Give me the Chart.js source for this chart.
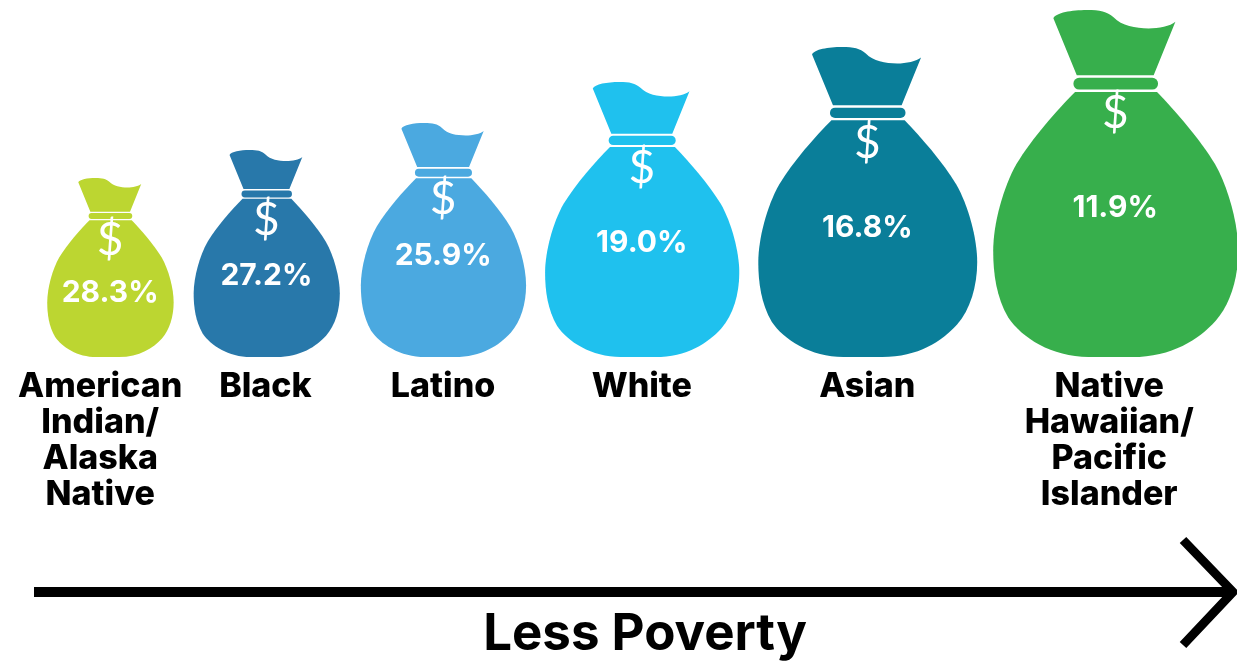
<!DOCTYPE html>
<html>
<head>
<meta charset="utf-8">
<title>Poverty rate by group</title>
<script src="https://cdn.jsdelivr.net/npm/chart.js@4/dist/chart.umd.min.js"></script>
<style>
  html, body { margin: 0; padding: 0; background: #fff; overflow: hidden; }
  canvas { display: block; }
</style>
</head>
<body>
<canvas id="bags" width="1237" height="662"></canvas>
<script>
// ====================== Data ======================
const GROUPS = [
  ["American", "Indian/", "Alaska", "Native"],
  "Black",
  "Latino",
  "White",
  "Asian",
  ["Native", "Hawaiian/", "Pacific", "Islander"]
];
const POVERTY_RATES = [28.3, 27.2, 25.9, 19.0, 16.8, 11.9];
const BAG_SIZES = [179, 207, 234, 275, 310, 347];
const BAG_COLORS = ["#bcd631", "#2878aa", "#4ba9e0", "#1fc1ee", "#0a7e99", "#37af4c"];
const AXIS_LABEL = "Less Poverty";

// ====================== Layout ======================
const FONT = "Inter, 'Noto Sans', sans-serif";
const DOLLAR_FONT = "Lato, 'Noto Sans', sans-serif";
const BAG_ASPECT = 0.706;   // width / height of the bag icon
const BAG_GAPS = [20, 21, 19, 19, 16];
const FIRST_BAG_LEFT = 47;
const PLOT_HEIGHT = 357;
const ICON_GRID = 1038;     // the path below is drawn on a grid this tall

// how far down each bag the $ and the rate sit, as a share of its height
const DOLLAR_DROP = [0.346, 0.338, 0.325, 0.313, 0.31, 0.297];
const RATE_DROP = [0.64, 0.61, 0.568, 0.585, 0.584, 0.57];
// group names are not quite centred under the first and last bag
const TICK_NUDGE = [-10, -1, 0, 0, 0, -6];

// bags sit side by side, so each centre follows from the sizes before it
const bagCenters = [];
let cursor = FIRST_BAG_LEFT;
BAG_SIZES.forEach((size, i) => {
  const w = size * BAG_ASPECT;
  bagCenters.push(cursor + w / 2);
  cursor += w + (BAG_GAPS[i] || 0);
});

// ====================== Bag Shape ======================
function traceBag(ctx) {
  // neck
  ctx.beginPath();
  ctx.moveTo(-185, 25);
  ctx.bezierCurveTo(-178, 8, -130, 0, -85, 0);
  ctx.bezierCurveTo(-45, 0, -25, 4, -5, 22);
  ctx.bezierCurveTo(20, 48, 60, 55, 100, 55);
  ctx.bezierCurveTo(130, 55, 165, 48, 180, 35);
  ctx.lineTo(115, 195);
  ctx.lineTo(-115, 195);
  ctx.closePath();
  ctx.fill();

  // tie
  ctx.beginPath();
  ctx.roundRect(-125, 203, 253, 35, 17);
  ctx.fill();

  // body
  ctx.beginPath();
  ctx.moveTo(125, 245);
  ctx.bezierCurveTo(178, 300, 253, 385, 298, 460);
  ctx.bezierCurveTo(338, 530, 368, 640, 368, 720);
  ctx.bezierCurveTo(368, 800, 345, 880, 300, 930);
  ctx.bezierCurveTo(250, 985, 170, 1038, 50, 1038);
  ctx.lineTo(-80, 1038);
  ctx.bezierCurveTo(-190, 1038, -280, 980, -320, 920);
  ctx.bezierCurveTo(-355, 860, -365, 790, -365, 720);
  ctx.bezierCurveTo(-365, 640, -335, 530, -295, 460);
  ctx.bezierCurveTo(-250, 385, -175, 300, -120, 245);
  ctx.closePath();
  ctx.fill();
}

// ====================== Plugins ======================
// each bar is drawn as a money bag standing in the bar's own box
const bagPlugin = {
  id: "bagPlugin",
  afterDatasetsDraw(chart) {
    const { ctx } = chart;
    chart.getDatasetMeta(0).data.forEach((bar, i) => {
      const height = bar.base - bar.y;
      const scale = height / ICON_GRID;

      ctx.save();
      ctx.translate(bar.x, bar.y);
      ctx.scale(scale, scale);
      ctx.fillStyle = BAG_COLORS[i];
      traceBag(ctx);
      ctx.restore();

      ctx.save();
      ctx.fillStyle = "#fff";
      ctx.textAlign = "center";
      ctx.textBaseline = "middle";
      ctx.font = `400 46px ${DOLLAR_FONT}`;
      ctx.fillText("$", bar.x, bar.y + height * DOLLAR_DROP[i]);
      ctx.font = `700 30px ${FONT}`;
      ctx.fillText(POVERTY_RATES[i].toFixed(1) + "%", bar.x, bar.y + height * RATE_DROP[i]);
      ctx.restore();
    });
  }
};

// long arrow along the bottom, with its caption
const arrowPlugin = {
  id: "arrowPlugin",
  afterDraw(chart) {
    const { ctx } = chart;
    ctx.save();
    ctx.strokeStyle = "#000";
    ctx.lineWidth = 10;
    ctx.beginPath();
    ctx.moveTo(34, 592);
    ctx.lineTo(1232, 592);
    ctx.stroke();
    ctx.lineWidth = 9;
    ctx.beginPath();
    ctx.moveTo(1183, 540);
    ctx.lineTo(1233, 592);
    ctx.lineTo(1183, 645);
    ctx.stroke();

    ctx.fillStyle = "#000";
    ctx.textAlign = "center";
    ctx.textBaseline = "alphabetic";
    ctx.font = `700 51px ${FONT}`;
    ctx.fillText(AXIS_LABEL, 645, 650);
    ctx.restore();
  }
};

// ====================== Chart ======================
new Chart(document.getElementById("bags"), {
  type: "bar",
  data: {
    datasets: [{
      data: BAG_SIZES.map((size, i) => ({ x: bagCenters[i], y: size })),
      backgroundColor: "transparent",
      borderWidth: 0
    }]
  },
  options: {
    responsive: false,
    animation: false,
    layout: { padding: 0 },
    plugins: { legend: { display: false }, tooltip: { enabled: false } },
    scales: {
      x: {
        type: "linear",
        min: 0,
        max: 1237,
        offset: false,
        grid: { display: false, drawTicks: false },
        border: { display: false },
        afterBuildTicks: axis => {
          axis.ticks = bagCenters.map((c, i) => ({ value: c + TICK_NUDGE[i] }));
        },
        afterFit: axis => { axis.height = 662 - PLOT_HEIGHT; },
        ticks: {
          autoSkip: false,
          maxRotation: 0,
          minRotation: 0,
          padding: 12,
          color: "#000",
          font: { family: FONT, size: 34, weight: 800, lineHeight: 1.06 },
          callback: (value, i) => GROUPS[i]
        }
      },
      y: {
        display: false,
        min: 0,
        max: PLOT_HEIGHT
      }
    }
  },
  plugins: [bagPlugin, arrowPlugin]
});
</script>
</body>
</html>
